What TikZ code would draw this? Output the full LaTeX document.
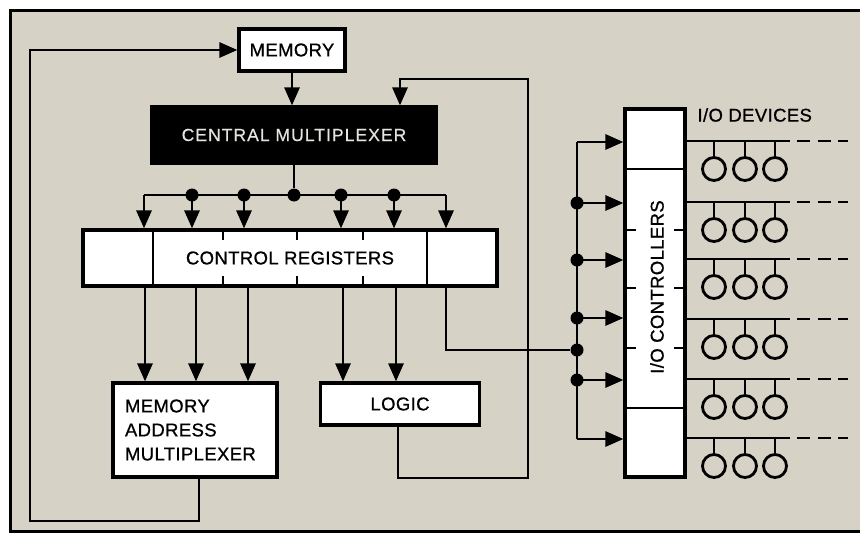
\documentclass[tikz,border=0pt]{standalone}
\usepackage{fontspec}
\setmainfont{Liberation Sans}[LetterSpace=2, FakeBold=0.8]
\newfontfamily\widefont{Liberation Sans}[LetterSpace=6, FakeBold=0.5]
\usetikzlibrary{arrows.meta}
\definecolor{paper}{RGB}{214,211,198}
\definecolor{pale}{RGB}{228,228,224}
\tikzset{
  box/.style={draw, line width=3.2pt, fill=white, inner sep=0pt, font=\fontsize{18.5}{24}\selectfont},
  wire/.style={line width=2.8pt},
  arr/.style={wire, -{Triangle[length=18pt,width=15pt]}},
  dot/.style={circle, fill, inner sep=0pt, minimum size=13pt},
  tick/.style={line width=1.8pt},
}

\begin{document}
\begin{tikzpicture}[x=1pt,y=-1pt]
  \useasboundingbox (0,0) rectangle (860,533);
  \fill[paper] (10,10) rectangle (860,531);
  \draw[line width=3pt] (860,10) -- (10,10) -- (10,531) -- (860,531);

  % boxes
  \node[box, minimum width=106pt, minimum height=42pt] (mem) at (292,50) {MEMORY};
  \node[box, fill=black, text=pale, font=\widefont\fontsize{17.5}{20}\selectfont,
        minimum width=284pt, minimum height=56pt] (cm) at (294,135) {CENTRAL MULTIPLEXER};
  \node[box, minimum width=414pt, minimum height=56pt] (cr) at (290,258) {CONTROL REGISTERS};
  \node[box, minimum width=164pt, minimum height=94pt, align=left, text width=140pt] (mam) at (195,430)
    {MEMORY\\ADDRESS\\MULTIPLEXER};
  \node[box, minimum width=159pt, minimum height=42pt] (logic) at (400,404) {LOGIC};
  \node[box, minimum width=60pt, minimum height=368pt] (ioc) at (655,293) {};
  \node[rotate=90, font=\fontsize{18.5}{20}\selectfont] (ioclbl) at (657,287) {I/O CONTROLLERS};
  \node[anchor=west, font=\fontsize{18.5}{20}\selectfont] (devlbl) at (694,115) {I/O DEVICES};

  % register and controller dividers
  \foreach \x in {153,427}
    \draw[tick] (cr.north -| \x,0) -- (cr.south -| \x,0);
  \foreach \x in {223,297,363} {
    \draw[tick] (cr.north -| \x,0) -- ++(0,12);
    \draw[tick] (cr.south -| \x,0) -- ++(0,-12);
  }
  \foreach \y in {169,408}
    \draw[tick] (ioc.west |- 0,\y) -- (ioc.east |- 0,\y);
  \foreach \y in {230,288,348} {
    \draw[tick] (ioc.west |- 0,\y) -- ++(13,0);
    \draw[tick] (ioc.east |- 0,\y) -- ++(-13,0);
  }

  % memory to central multiplexer to registers
  \draw[arr] (mem.south) -- (mem.south |- cm.north);
  \node[dot] (hub) at (cm.south |- 0,195) {};
  \draw[wire] (cm.south) -- (hub);
  \draw[wire] (144,195) -- (446,195);
  \foreach \x in {192,244,341,394}
    \node[dot] at (\x,195) {};
  \foreach \x in {144,192,244,341,394,446}
    \draw[arr] (\x,195) -- (cr.north -| \x,0);

  % registers down
  \foreach \x in {145,196,248}
    \draw[arr] (cr.south -| \x,0) -- (mam.north -| \x,0);
  \foreach \x in {343,396}
    \draw[arr] (cr.south -| \x,0) -- (logic.north -| \x,0);

  % feedback loops
  \draw[arr] (mam.south -| 199,0) |- (30,521) |- (mem.west);
  \draw[arr] (logic.south -| 398,0) |- (528,478) |- (400,79) -- (cm.north -| 400,0);

  % I/O bus
  \draw[wire] (577,142) -- (577,439);
  \foreach \y/\n in {203/1,260/2,318/3,350/4,380/5}
    \node[dot] (io\n) at (577,\y) {};
  \draw[wire] (cr.south -| 446,0) |- (io4);
  \foreach \y in {142,203,260,318,380,439}
    \draw[arr] (577,\y) -- (ioc.west |- 0,\y);

  % devices
  \foreach \y in {141,202,259,319,379,438} {
    \draw[wire] (ioc.east |- 0,\y) -- (790,\y);
    \draw[wire, dash pattern=on 13pt off 7.5pt] (797,\y) -- (848,\y);
    \foreach \x in {714,745,775} {
      \draw[wire] (\x,\y) -- ++(0,16.5);
      \draw[wire] (\x,\y+28) circle (11.5);
    }
  }
\end{tikzpicture}
\end{document}
